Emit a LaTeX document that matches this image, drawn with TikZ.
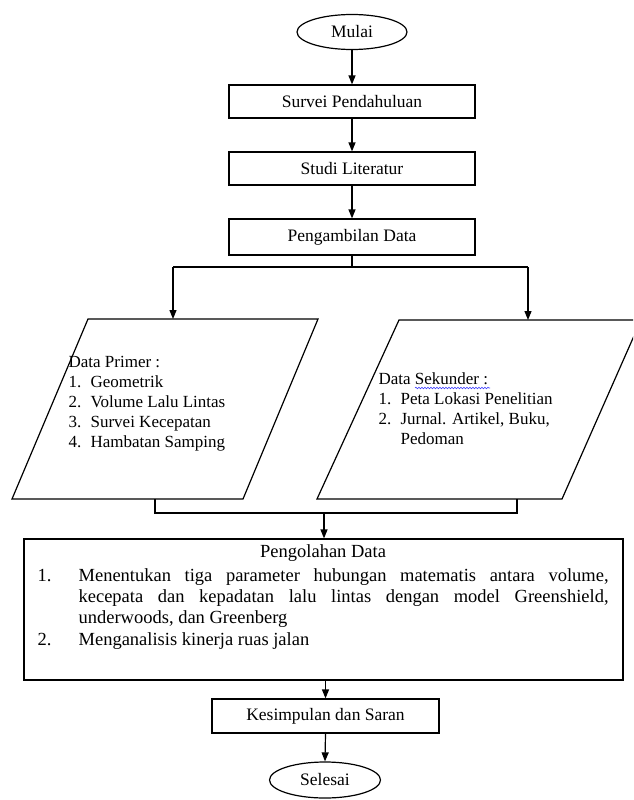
\documentclass[tikz,border=0pt]{standalone}
\usepackage{fontspec}
\setmainfont{Liberation Serif}
\usetikzlibrary{arrows.meta,shapes.geometric,decorations.pathmorphing}
\begin{document}
\begin{tikzpicture}[x=1pt,y=-1pt,
  line width=1.2pt,
  box/.style={draw, rectangle, inner sep=0pt, font=\fontsize{17.5}{21}\selectfont},
  term/.style={draw, ellipse, inner sep=0pt, font=\fontsize{17.5}{21}\selectfont},
  ptext/.style={anchor=north west, inner sep=0pt, align=left, font=\fontsize{17}{20}\selectfont},
  arr/.style={-{Triangle[width=7pt,length=9pt]}},
  ]
\useasboundingbox (0,0) rectangle (633,800);
\clip (0,0) rectangle (633,800);

% terminals and process boxes
\node[term, minimum width=110pt, minimum height=35pt] (mulai) at (352,32) {Mulai};
\node[box, minimum width=246pt, minimum height=33pt] (survei) at (352,101.5) {Survei Pendahuluan};
\node[box, minimum width=246pt, minimum height=33pt] (studi) at (352,168.5) {Studi Literatur};
\node[box, minimum width=246pt, minimum height=36pt] (ambil) at (352,237) {Pengambilan Data};

% data parallelograms
\draw (88,319) -- (318,319) -- (243,499) -- (12,499) -- cycle;
\coordinate (pltop) at (173,319);
\coordinate (plbot) at (155,499);
\draw (399,320) -- (641,320) -- (562,499) -- (317,499) -- cycle;
\coordinate (prtop) at (528,320);
\coordinate (prbot) at (517,499);

\node[ptext] (pltxt) at (68,355.4) {Data Primer :\\
  \makebox[22pt][l]{1.}Geometrik\\
  \makebox[22pt][l]{2.}Volume Lalu Lintas\\
  \makebox[22pt][l]{3.}Survei Kecepatan\\
  \makebox[22pt][l]{4.}Hambatan Samping};
\node[ptext] (prtxt) at (378,372.4) {Data Sekunder :\\
  \makebox[22pt][l]{1.}Peta Lokasi Penelitian\\
  \makebox[22pt][l]{2.}Jurnal. Artikel, Buku,\\
  \hspace*{22pt}Pedoman};
\draw[blue!75, line width=0.6pt, decorate,
      decoration={snake, amplitude=0.8pt, segment length=3pt}] (415,388) -- (490,388);

% processing box
\node[draw, rectangle, inner sep=0pt, minimum width=599pt, minimum height=141pt] (olah) at (323.5,609.5) {};
\node[anchor=north west, inner sep=0pt, text width=571pt, align=justify,
      font=\fontsize{18.5}{21.3}\selectfont] (olahtxt) at (37,544.4) {%
  {\centering Pengolahan Data\par}\vspace{2pt}%
  \hangindent=41pt\hangafter=1\noindent\makebox[41pt][l]{1.}Menentukan tiga parameter hubungan matematis antara volume,\linebreak
  kecepata dan kepadatan lalu lintas dengan model Greenshield,\linebreak
  underwoods, dan Greenberg\par
  \noindent\makebox[41pt][l]{2.}Menganalisis kinerja ruas jalan\par};

\node[box, minimum width=227pt, minimum height=34pt] (kes) at (325.5,716) {Kesimpulan dan Saran};
\node[term, minimum width=111pt, minimum height=36pt] (sel) at (325,780) {Selesai};

% connectors
\draw[arr] (mulai.south) -- (survei.north);
\draw[arr] (survei.south) -- (studi.north);
\draw[arr] (studi.south) -- (ambil.north);

\coordinate (split) at (352,267);
\coordinate (sl) at (173,267);
\coordinate (sr) at (528,267);
\draw (ambil.south) -- (split);
\draw (sl) -- (sr);
\draw[arr] (sl) -- (pltop);
\draw[arr] (sr) -- (prtop);

\coordinate (ml) at (155,513);
\coordinate (mr) at (517,513);
\coordinate (mj) at (324,513);
\draw (plbot) -- (ml) -- (mr) -- (prbot);
\draw[arr] (mj) -- (mj |- olah.north);

\draw[arr] (kes.north |- olah.south) -- (kes.north);
\draw[arr] (kes.south) -- (sel.north);
\end{tikzpicture}
\end{document}
